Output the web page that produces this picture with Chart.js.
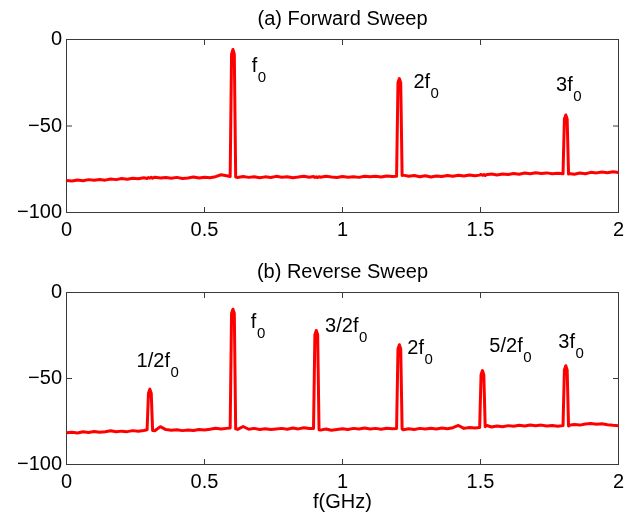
<!DOCTYPE html>
<html>
<head>
<meta charset="utf-8">
<script src="https://cdn.jsdelivr.net/npm/chart.js@4.4.1/dist/chart.umd.min.js"></script>
<style>
  html, body { margin: 0; padding: 0; background: #fff; }
  #wrap { position: relative; width: 633px; height: 515px; }
  canvas { position: absolute; left: 0; }
  #top { top: 0; }
  #bottom { top: 260px; }
</style>
</head>
<body>
<div id="wrap">
  <canvas id="top" width="633" height="260"></canvas>
  <canvas id="bottom" width="633" height="255"></canvas>
</div>
<script>
// frequency (GHz), shared by both sweeps
const freq = [
  0.00, 0.02, 0.04, 0.06, 0.08, 0.10, 0.12, 0.14, 0.16, 0.18, 0.20, 0.22, 0.24, 0.26, 0.28,
  0.292, 0.297, 0.302, 0.307, 0.312,
  0.32, 0.34, 0.36, 0.38, 0.40, 0.42, 0.44, 0.46, 0.48, 0.50, 0.52, 0.54, 0.56, 0.58,
  0.593, 0.598, 0.603, 0.608, 0.613,
  0.62, 0.64, 0.66, 0.68, 0.70, 0.72, 0.74, 0.76, 0.78, 0.80, 0.82, 0.84, 0.86, 0.88,
  0.895, 0.900, 0.905, 0.910, 0.915,
  0.92, 0.94, 0.96, 0.98, 1.00, 1.02, 1.04, 1.06, 1.08, 1.10, 1.12, 1.14, 1.16, 1.18,
  1.196, 1.201, 1.206, 1.211, 1.216,
  1.22, 1.24, 1.26, 1.28, 1.30, 1.32, 1.34, 1.36, 1.38, 1.40, 1.42, 1.44, 1.46, 1.48,
  1.497, 1.502, 1.507, 1.512, 1.517,
  1.52, 1.54, 1.56, 1.58, 1.60, 1.62, 1.64, 1.66, 1.68, 1.70, 1.72, 1.74, 1.76, 1.78,
  1.799, 1.804, 1.809, 1.814, 1.819,
  1.82, 1.84, 1.86, 1.88, 1.90, 1.92, 1.94, 1.96, 1.98, 2.00
];

// (a) forward sweep, dB
const forwardDb = [
  -81.5, -81.8, -81.2, -81.6, -81.0, -81.4, -80.9, -81.3, -80.6, -81.0, -80.4, -80.8, -80.2, -80.5, -79.9,
  -80.3, -79.8, -80.1, -79.7, -80.2,
  -79.6, -80.1, -79.8, -80.2, -79.7, -80.3, -80.0, -79.5, -80.1, -79.6, -79.9, -79.3, -78.2, -78.8,
  -79.2, -8.5, -5.8, -8.5, -79.5,
  -79.8, -79.2, -79.7, -79.3, -79.9, -79.4, -79.8, -79.1, -79.6, -79.3, -79.9, -79.5, -79.0, -79.6,
  -79.2, -79.7, -79.4, -79.8, -79.3,
  -79.6, -79.1, -79.5, -79.8, -79.2, -79.6, -79.3, -79.7, -79.0, -79.4, -79.1, -79.5, -78.9, -79.2,
  -79.0, -25.0, -22.6, -25.0, -78.6,
  -78.4, -79.0, -78.6, -79.3, -78.8, -79.5, -78.9, -79.2, -78.6, -79.0, -78.5, -78.9, -78.3, -78.7,
  -78.4, -78.0, -78.5, -78.1, -78.6,
  -78.2, -77.8, -78.3, -77.7, -78.0, -77.5, -77.9, -77.2, -77.6, -77.0, -77.4, -77.1, -77.6, -77.3,
  -77.6, -46.0, -43.6, -46.0, -77.8,
  -77.5, -77.9, -77.2, -77.6, -76.8, -77.1, -76.6, -77.0, -76.5, -76.9
];

// (b) reverse sweep, dB
const reverseDb = [
  -81.6, -81.2, -81.7, -81.0, -81.4, -80.8, -81.3, -80.9, -80.4, -81.0, -80.6, -80.9, -80.3, -80.7, -80.2,
  -79.8, -58.5, -56.2, -58.5, -80.2,
  -80.4, -78.0, -79.7, -80.1, -79.8, -80.3, -79.9, -80.2, -79.6, -80.0, -79.5, -78.9, -79.4, -79.0,
  -78.8, -12.0, -9.7, -12.0, -79.3,
  -79.6, -77.9, -79.5, -79.0, -79.6, -79.2, -79.7, -79.3, -79.0, -79.5, -78.8, -79.3, -78.6, -79.1,
  -79.0, -24.5, -22.1, -24.5, -79.8,
  -80.0, -79.4, -80.1, -79.6, -79.2, -79.7, -79.0, -79.4, -78.8, -79.3, -79.0, -79.5, -78.9, -79.2,
  -79.0, -32.8, -30.4, -32.8, -79.4,
  -79.8, -79.2, -79.6, -79.0, -79.4, -78.9, -79.3, -78.8, -79.2, -78.6, -77.3, -79.0, -78.5, -78.8,
  -78.5, -47.8, -45.4, -47.8, -78.0,
  -77.2, -78.2, -77.6, -78.0, -77.4, -77.8, -77.2, -77.6, -77.0, -77.5, -77.1, -77.6, -77.3, -77.7,
  -77.4, -45.0, -42.6, -45.0, -77.6,
  -77.2, -76.8, -77.1, -76.5, -76.2, -76.6, -76.3, -76.9, -77.2, -77.4
];

const xTicks = [0, 0.5, 1, 1.5, 2];
const xTickLabels = ['0', '0.5', '1', '1.5', '2'];
const yTicks = [-100, -50, 0];
const yTickLabels = ['\u2212100', '\u221250', '0'];

// peak labels: text, subscript, anchor in data units (left edge, baseline)
const forwardNotes = [
  { text: 'f', sub: '0', x: 0.671, y: -18.8 },
  { text: '2f', sub: '0', x: 1.257, y: -27.9 },
  { text: '3f', sub: '0', x: 1.774, y: -29.8 }
];
const reverseNotes = [
  { text: '1/2f', sub: '0', x: 0.254, y: -43.1 },
  { text: 'f', sub: '0', x: 0.668, y: -20.8 },
  { text: '3/2f', sub: '0', x: 0.937, y: -23.0 },
  { text: '2f', sub: '0', x: 1.235, y: -35.8 },
  { text: '5/2f', sub: '0', x: 1.532, y: -34.4 },
  { text: '3f', sub: '0', x: 1.782, y: -32.4 }
];

const FONT = '"Liberation Sans", Arial, Helvetica, sans-serif';
Chart.defaults.font.family = FONT;
Chart.defaults.color = '#000';

// axes box with inward ticks, matlab style
const boxPlugin = {
  id: 'box',
  beforeDatasetsDraw(chart) {
    const { ctx, chartArea: a, scales } = chart;
    ctx.save();
    ctx.strokeStyle = '#3a3a3a';
    ctx.lineWidth = 1;
    ctx.strokeRect(a.left, a.top, a.right - a.left, a.bottom - a.top);
    ctx.beginPath();
    xTicks.forEach(v => {
      const px = scales.x.getPixelForValue(v);
      ctx.moveTo(px, a.bottom); ctx.lineTo(px, a.bottom - 5.5);
      ctx.moveTo(px, a.top); ctx.lineTo(px, a.top + 5.5);
    });
    yTicks.forEach(v => {
      const py = scales.y.getPixelForValue(v);
      ctx.moveTo(a.left, py); ctx.lineTo(a.left + 5.5, py);
      ctx.moveTo(a.right, py); ctx.lineTo(a.right - 5.5, py);
    });
    ctx.stroke();
    ctx.restore();
  }
};

const textPlugin = {
  id: 'texts',
  afterDraw(chart, args, opts) {
    const { ctx, chartArea: a, scales } = chart;
    const cx = (a.left + a.right) / 2;
    ctx.save();
    ctx.fillStyle = '#000';
    ctx.textBaseline = 'alphabetic';
    ctx.textAlign = 'center';
    ctx.font = '20px ' + FONT;
    ctx.fillText(opts.title, cx, opts.titleY);
    if (opts.xlabel) ctx.fillText(opts.xlabel, cx, opts.xlabelY);
    ctx.textAlign = 'left';
    opts.notes.forEach(n => {
      const px = scales.x.getPixelForValue(n.x);
      const py = scales.y.getPixelForValue(n.y);
      ctx.font = '20px ' + FONT;
      ctx.fillText(n.text, px, py);
      const w = ctx.measureText(n.text).width;
      ctx.font = '15px ' + FONT;
      ctx.fillText(n.sub, px + w + 0.5, py + 10);
    });
    ctx.restore();
  }
};

function makePanel(id, values, texts, padTop, xHeight) {
  const points = freq.map((f, i) => ({ x: f, y: values[i] }));
  return new Chart(document.getElementById(id), {
    type: 'line',
    data: {
      datasets: [{
        data: points,
        borderColor: '#ff0000',
        borderWidth: 3,
        pointRadius: 0,
        tension: 0,
        borderJoinStyle: 'round',
        borderCapStyle: 'round'
      }]
    },
    options: {
      responsive: false,
      animation: false,
      devicePixelRatio: 1,
      layout: { padding: { top: padTop, right: 14.5, left: 0, bottom: 0 } },
      plugins: {
        legend: { display: false },
        tooltip: { enabled: false },
        texts: texts
      },
      scales: {
        x: {
          type: 'linear',
          min: 0,
          max: 2,
          grid: { display: false, drawTicks: false },
          border: { display: false },
          afterBuildTicks: s => { s.ticks = xTicks.map(v => ({ value: v })); },
          afterFit: s => { s.height = xHeight; },
          ticks: {
            padding: 5.5,
            maxRotation: 0,
            autoSkip: false,
            font: { size: 20 },
            callback: v => xTickLabels[xTicks.indexOf(v)]
          }
        },
        y: {
          type: 'linear',
          min: -100,
          max: 0,
          grid: { display: false, drawTicks: false },
          border: { display: false },
          afterBuildTicks: s => { s.ticks = yTicks.map(v => ({ value: v })); },
          afterFit: s => { s.width = 66.5; },
          ticks: {
            padding: 4.5,
            autoSkip: false,
            font: { size: 20 },
            callback: v => yTickLabels[yTicks.indexOf(v)]
          }
        }
      }
    },
    plugins: [boxPlugin, textPlugin]
  });
}

makePanel('top', forwardDb,
  { title: '(a) Forward Sweep', titleY: 24.5, notes: forwardNotes },
  39.5, 47.5);
makePanel('bottom', reverseDb,
  { title: '(b) Reverse Sweep', titleY: 17.5, notes: reverseNotes, xlabel: 'f(GHz)', xlabelY: 248 },
  32.5, 50.5);
</script>
</body>
</html>
